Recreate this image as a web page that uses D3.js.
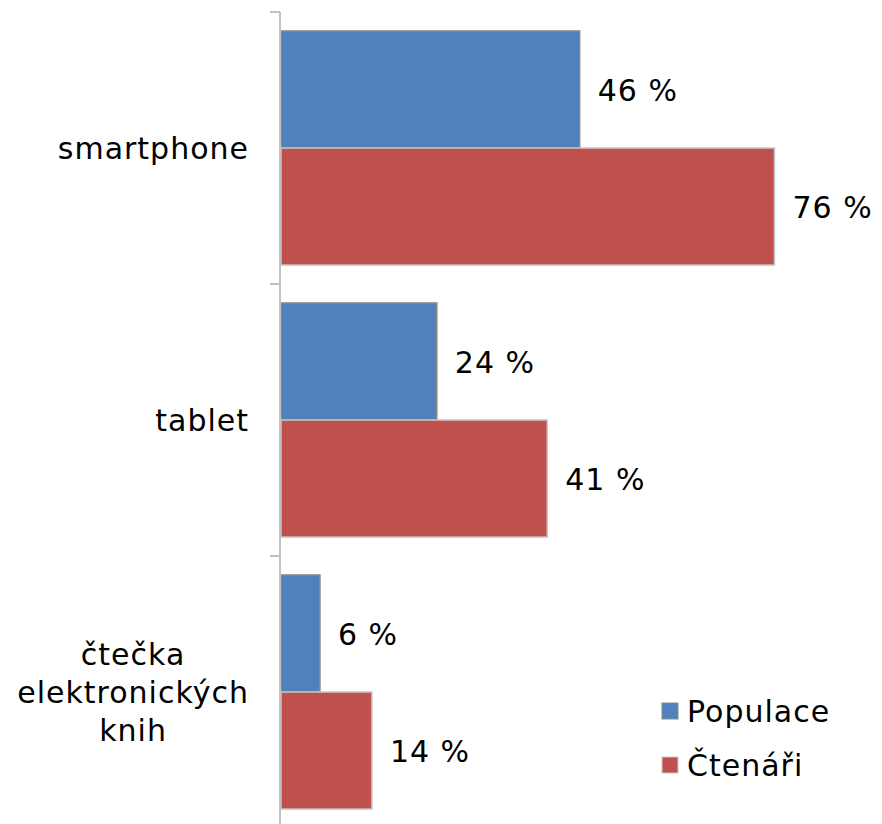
<!DOCTYPE html>
<html>
<head>
<meta charset="utf-8">
<script src="https://cdn.jsdelivr.net/npm/d3@7"></script>
<style>
  html, body { margin: 0; padding: 0; background: #fff; }
  svg text { font-family: "DejaVu Sans", Verdana, sans-serif; fill: #000; letter-spacing: 1px; }
</style>
</head>
<body>
<svg id="chart" width="882" height="824"></svg>
<script>
// Devices owned: whole population vs. book readers (percent)
const categories = [
  ["smartphone"],
  ["tablet"],
  ["čtečka", "elektronických", "knih"]
];
const seriesNames = ["Populace", "Čtenáři"];
const populace = [46, 24, 6];
const ctenari = [76, 41, 14];
const seriesValues = [populace, ctenari];

const colors = ["#4F81BD", "#C0504D"];
const strokes = ["#8a8a8a", "#c8c8c8"];
const fontSize = 30;

const svg = d3.select("#chart");

const catKeys = categories.map(c => c.join(" "));
const y = d3.scaleBand().domain(catKeys).range([12, 828]).padding(0);
const ySub = d3.scaleBand().domain(seriesNames).range([0, y.bandwidth()])
  .paddingInner(0).paddingOuter(0.162);
const x = d3.scaleLinear().domain([0, 80]).range([281, 800.5]);

// bars
catKeys.forEach((key, ci) => {
  const g = svg.append("g").attr("transform", `translate(0,${y(key)})`);
  seriesNames.forEach((s, si) => {
    const v = seriesValues[si][ci];
    g.append("rect")
      .attr("x", x(0))
      .attr("y", ySub(s))
      .attr("width", x(v) - x(0))
      .attr("height", ySub.bandwidth())
      .attr("fill", colors[si])
      .attr("stroke", strokes[si])
      .attr("stroke-width", 1.5);
    g.append("text")
      .attr("x", x(v) + 18)
      .attr("y", ySub(s) + ySub.bandwidth() / 2 + fontSize * 0.36 + 1)
      .attr("font-size", fontSize)
      .text(`${v} %`);
  });
});

// category axis
const axisX = x(0) - 1;
svg.append("line")
  .attr("x1", axisX).attr("x2", axisX)
  .attr("y1", 12).attr("y2", 824)
  .attr("stroke", "#c0c0c0").attr("stroke-width", 2);
[...catKeys.map(k => y(k)), y(catKeys[catKeys.length - 1]) + y.bandwidth()].forEach(t => {
  svg.append("line")
    .attr("x1", axisX - 10).attr("x2", axisX)
    .attr("y1", t).attr("y2", t)
    .attr("stroke", "#c0c0c0").attr("stroke-width", 2);
});

// category labels (multi-line labels centred on their widest line)
const lineH = 38;
categories.forEach((lines, ci) => {
  const cy = y(catKeys[ci]) + y.bandwidth() / 2;
  const grp = svg.append("g");
  const texts = lines.map((ln, li) => grp.append("text")
    .attr("font-size", fontSize)
    .attr("y", cy + (li - (lines.length - 1) / 2) * lineH + fontSize * 0.36)
    .text(ln));
  const widths = texts.map(t => t.node().getComputedTextLength());
  const maxW = d3.max(widths);
  const right = 249;
  texts.forEach((t, i) => t.attr("x", right - maxW / 2 - widths[i] / 2));
});

// legend
const legend = svg.append("g").attr("transform", "translate(662,703)");
seriesNames.forEach((s, i) => {
  const row = legend.append("g").attr("transform", `translate(0,${i * 54})`);
  row.append("rect")
    .attr("width", 16).attr("height", 16)
    .attr("fill", colors[i])
    .attr("stroke", strokes[i]).attr("stroke-width", 1);
  row.append("text")
    .attr("x", 25).attr("y", 8 + fontSize * 0.36)
    .attr("font-size", fontSize)
    .text(s);
});
</script>
</body>
</html>
